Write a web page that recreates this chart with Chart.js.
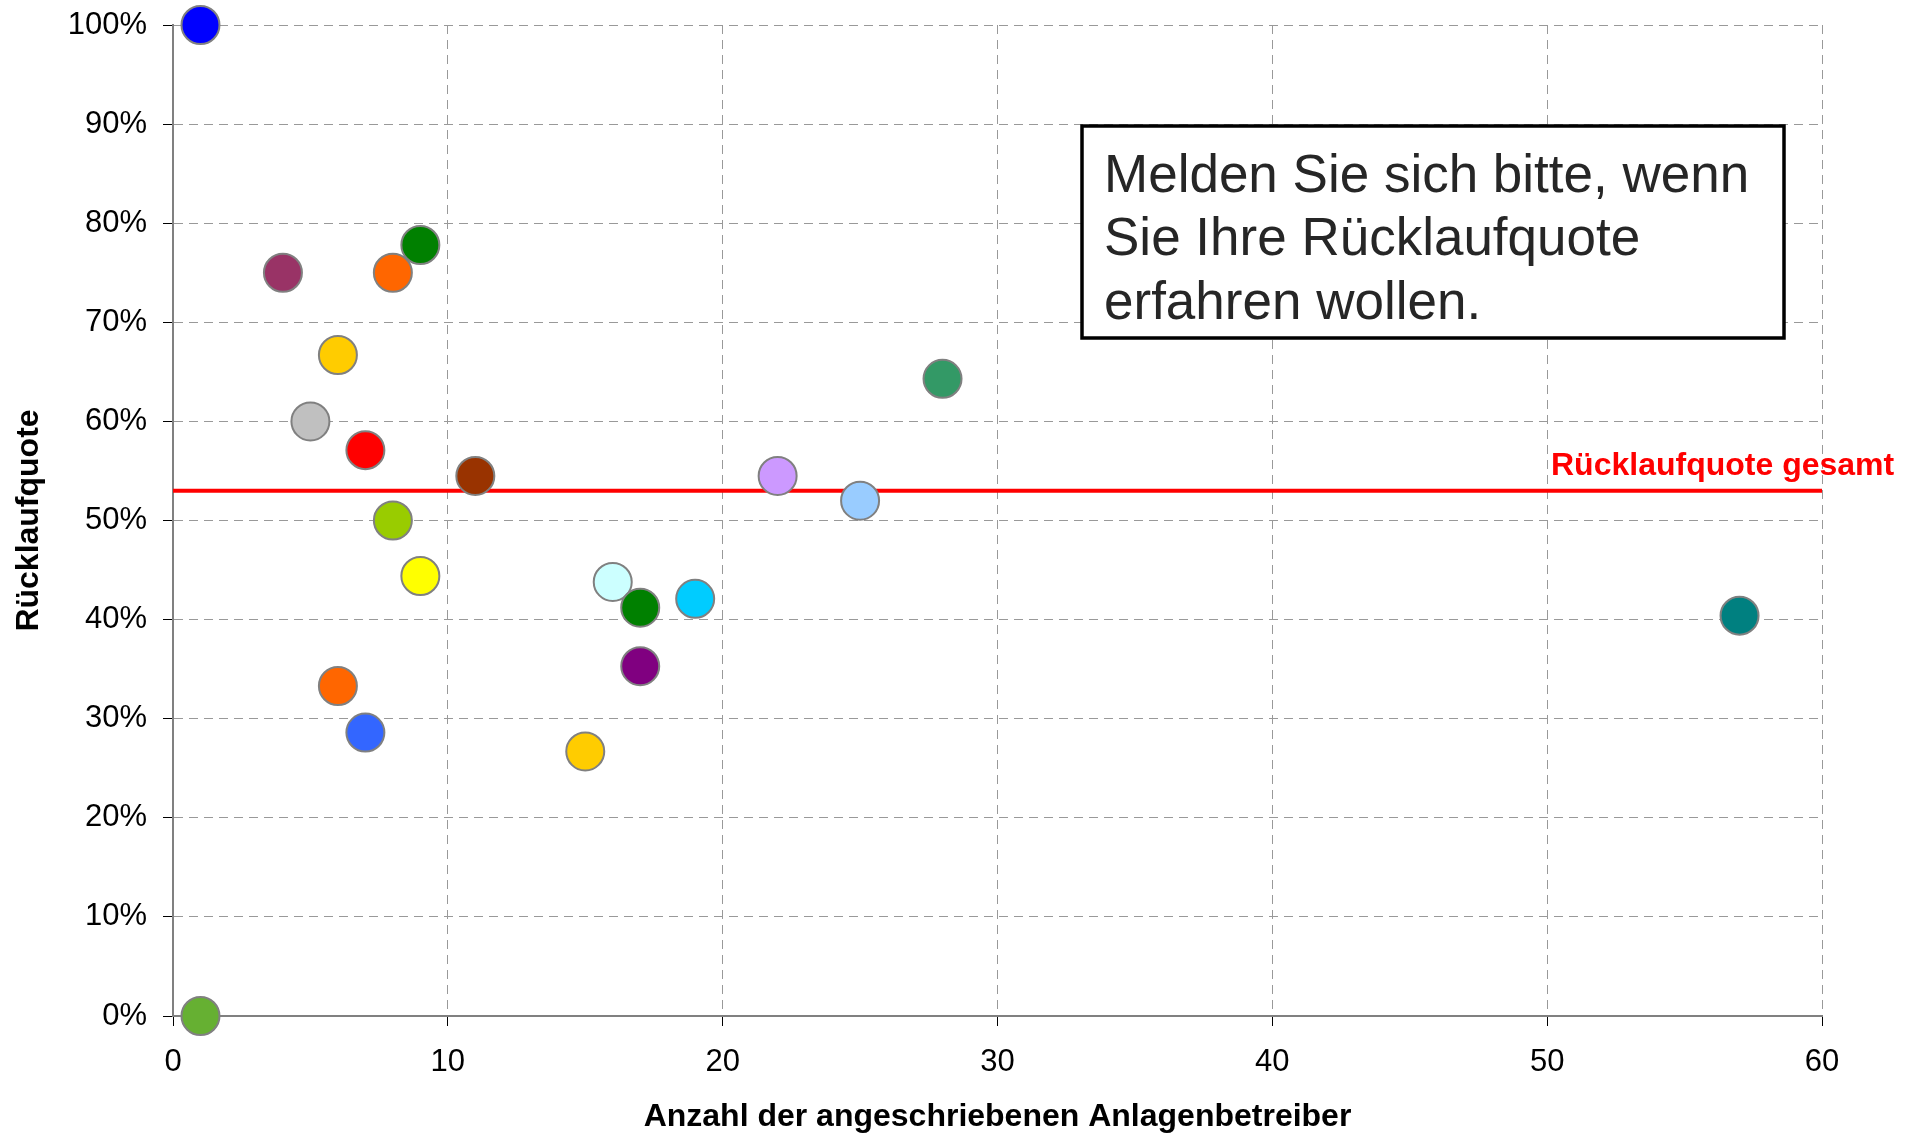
<!DOCTYPE html>
<html lang="de">
    <head>
        <meta charset="UTF-8" />
        <title>Rücklaufquote</title>
        <script src="https://cdn.jsdelivr.net/npm/chart.js@4.4.0/dist/chart.umd.min.js"></script>
        <style>
            body { margin: 0; background: #fff; }
        </style>
    </head>
    <body>
        <canvas id="quoteChart" width="1921" height="1136"></canvas>
        <script>
            // Anzahl angeschriebener Betreiber (x) und Rücklaufquote in % (y)
            const anzahl = [1, 1, 4, 8, 9, 6, 5, 7, 11, 8, 9, 6, 7, 15, 16, 17, 17, 19, 22, 25, 28, 57];
            const quote = [100, 0, 75, 75, 77.8, 66.7, 60, 57.1, 54.5, 50, 44.4, 33.3, 28.6, 26.7, 43.8, 41.2, 35.3, 42.1, 54.5, 52, 64.3, 40.4];
            const farben = ['#0000FF', '#66B032', '#993366', '#FF6600', '#008000', '#FFCC00', '#C0C0C0', '#FF0000',
                            '#993300', '#99CC00', '#FFFF00', '#FF6600', '#3366FF', '#FFCC00', '#CCFFFF', '#008000',
                            '#800080', '#00CCFF', '#CC99FF', '#99CCFF', '#339966', '#008080'];
            const gesamtQuote = 53;
            const gesamtX = [0, 60];
            const hinweisZeilen = ['Melden Sie sich bitte, wenn', 'Sie Ihre Rücklaufquote', 'erfahren wollen.'];

            Chart.defaults.font.family = '"Liberation Sans", Arial, sans-serif';
            Chart.defaults.color = '#000';

            const punkte = anzahl.map((x, i) => ({ x: x, y: quote[i] }));
            const gesamtLinie = gesamtX.map(x => ({ x: x, y: gesamtQuote }));

            // Beschriftung der Gesamtlinie und Hinweiskasten
            const extras = {
                id: 'extras',
                afterDraw(chart) {
                    const ctx = chart.ctx;
                    const ca = chart.chartArea;
                    const yLine = chart.scales.y.getPixelForValue(gesamtQuote);
                    ctx.save();
                    ctx.fillStyle = '#FF0000';
                    ctx.font = 'bold 32px "Liberation Sans", Arial, sans-serif';
                    ctx.textAlign = 'left';
                    ctx.textBaseline = 'middle';
                    ctx.fillText('Rücklaufquote gesamt', ca.right - 271, yLine - 25);

                    const bx = 1082, by = 126, bw = 702, bh = 212;
                    ctx.fillStyle = '#fff';
                    ctx.fillRect(bx, by, bw, bh);
                    ctx.lineWidth = 3.5;
                    ctx.strokeStyle = '#000';
                    ctx.strokeRect(bx, by, bw, bh);
                    ctx.fillStyle = '#262626';
                    ctx.font = '53px "Liberation Sans", Arial, sans-serif';
                    hinweisZeilen.forEach((t, i) => ctx.fillText(t, bx + 22, by + 51 + i * 63.5));
                    ctx.restore();
                }
            };

            const ctx = document.getElementById('quoteChart').getContext('2d');
            const quoteChart = new Chart(ctx, {
                type: 'scatter',
                data: {
                    datasets: [
                    {
                        label: 'Rücklaufquote',
                        data: punkte,
                        pointRadius: 19,
                        pointHoverRadius: 19,
                        pointBackgroundColor: farben,
                        pointBorderColor: '#808080',
                        pointBorderWidth: 2,
                        clip: false
                    },
                    {
                        label: 'Rücklaufquote gesamt',
                        type: 'line',
                        data: gesamtLinie,
                        borderColor: '#FF0000',
                        borderWidth: 4,
                        pointRadius: 0,
                        fill: false
                    }
                    ]
                },
                options: {
                    responsive: false,
                    animation: false,
                    layout: { padding: { left: 0, top: 25, right: 99, bottom: 0 } },
                    plugins: {
                        legend: { display: false },
                        tooltip: { enabled: false }
                    },
                    scales: {
                        x: {
                            type: 'linear',
                            min: 0,
                            max: 60,
                            ticks: { stepSize: 10, padding: 18, font: { size: 31 }, color: '#000' },
                            grid: { color: '#999', lineWidth: 1, tickLength: 10, tickColor: '#000' },
                            border: { color: '#808080', width: 2, dash: [9, 6] },
                            title: {
                                display: true,
                                text: 'Anzahl der angeschriebenen Anlagenbetreiber',
                                font: { size: 32, weight: 'bold' },
                                color: '#000',
                                padding: { top: 0, bottom: 0 }
                            },
                            afterFit(scale) {
                                scale.height = 120;
                                scale.paddingLeft = 0;
                                scale.paddingRight = 0;
                            }
                        },
                        y: {
                            min: 0,
                            max: 100,
                            ticks: { stepSize: 10, padding: 16, font: { size: 31 }, color: '#000',
                                     callback: v => v + '%' },
                            grid: { color: '#999', lineWidth: 1, tickLength: 10, tickColor: '#000' },
                            border: { color: '#808080', width: 2, dash: [9, 6] },
                            title: {
                                display: true,
                                text: 'Rücklaufquote',
                                font: { size: 32, weight: 'bold' },
                                color: '#000',
                                padding: { top: 10, bottom: 0 }
                            },
                            afterFit(scale) {
                                scale.width = 173;
                                scale.paddingTop = 0;
                                scale.paddingBottom = 0;
                            }
                        }
                    }
                },
                plugins: [extras]
            });
        </script>
    </body>
</html>
